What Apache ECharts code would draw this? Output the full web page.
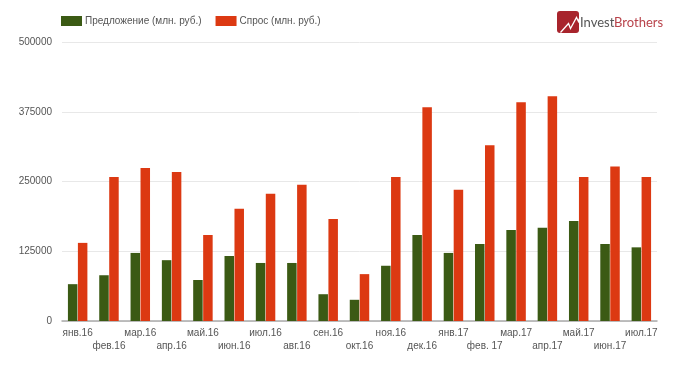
<!DOCTYPE html>
<html><head><meta charset="utf-8">
<style>html,body{margin:0;padding:0;background:#fff}#c{width:680px;height:366px}</style>
<script src="https://cdn.jsdelivr.net/npm/echarts@6/dist/echarts.min.js"></script>
</head><body><div id="c"></div>
<script>
const categories=['янв.16','фев.16','мар.16','апр.16','май.16','июн.16','июл.16','авг.16','сен.16','окт.16','ноя.16','дек.16','янв.17','фев. 17','мар.17','апр.17','май.17','июн.17','июл.17'];
const supply=[66000,82000,122000,109000,73500,116500,104000,104000,48000,38000,99000,154000,122000,138000,163000,167000,179000,138000,132000];
const demand=[140000,258000,274000,267000,154000,201000,228000,244000,183000,84000,258000,383000,235000,315000,392000,403000,258000,277000,258000];
const yTicks={min:0,max:500000,interval:125000};
const font='"Liberation Sans",Arial,sans-serif';
const chart=echarts.init(document.getElementById('c'),null,{renderer:'canvas'});
chart.setOption({
 animation:false,backgroundColor:'#fff',
 grid:{left:62,right:23,top:42,bottom:45},
 legend:{left:56,top:11,itemWidth:21,itemHeight:10,itemGap:14,icon:'rect',
  textStyle:{fontFamily:font,fontSize:10,color:'#555',padding:[0,0,0,-2]}},
 xAxis:{type:'category',data:categories,
  axisTick:{show:false},
  axisLine:{lineStyle:{color:'#aaaaaa',width:1.5}},
  axisLabel:{interval:0,fontFamily:font,fontSize:10,color:'#555',margin:6,lineHeight:13,
   formatter:(v,i)=>i%2?'\n'+v:v}},
 yAxis:{type:'value',...yTicks,
  axisLine:{show:false},axisTick:{show:false},
  splitLine:{lineStyle:{color:'#e8e8e8',width:1}},
  axisLabel:{fontFamily:font,fontSize:10,color:'#555',margin:10,formatter:v=>String(v)}},
 series:[
  {name:'Предложение (млн. руб.)',type:'bar',data:supply,barWidth:9.5,barGap:'5%',itemStyle:{color:'#3b5a14'}},
  {name:'Спрос (млн. руб.)',type:'bar',data:demand,barWidth:9.5,itemStyle:{color:'#dc3912'}}
 ],
 graphic:[
  {type:'rect',left:557,top:11,shape:{width:22,height:22,r:3},style:{fill:'#a8242c'}},
  {type:'polyline',left:558,top:13,shape:{points:[[0,17],[8,8],[10,13],[16,2],[18,6],[20,0]]},style:{stroke:'#fff',fill:null,lineWidth:1.3}},
  {type:'text',left:580,top:16,style:{text:'Invest',font:'13px Lato,sans-serif',fill:'#555'}},
  {type:'text',left:614,top:16,style:{text:'Brothers',font:'13px Lato,sans-serif',fill:'#b8424a'}}
 ]
});
</script></body></html>
